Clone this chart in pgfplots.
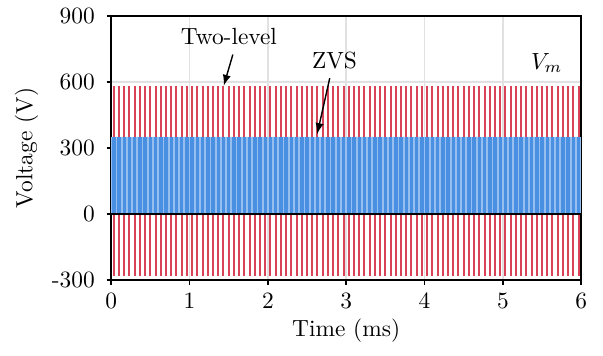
\documentclass[border=0pt]{standalone}
\usepackage{pgfplots}
\pgfplotsset{compat=1.18}
\usepackage{pgfplotstable}
\definecolor{tlred}{RGB}{217,67,88}
\definecolor{zvsblue}{RGB}{74,144,226}
\definecolor{zvslight}{RGB}{150,190,238}
\definecolor{gridgray}{RGB}{225,225,225}
\pgfplotstableread{
x hi lo zvs
0.033 580 -280 350
0.100 580 -280 350
0.167 580 -280 350
0.233 580 -280 350
0.300 580 -280 350
0.367 580 -280 350
0.433 580 -280 350
0.500 580 -280 350
0.567 580 -280 350
0.633 580 -280 350
0.700 580 -280 350
0.767 580 -280 350
0.833 580 -280 350
0.900 580 -280 350
0.967 580 -280 350
1.033 580 -280 350
1.100 580 -280 350
1.167 580 -280 350
1.233 580 -280 350
1.300 580 -280 350
1.367 580 -280 350
1.433 580 -280 350
1.500 580 -280 350
1.567 580 -280 350
1.633 580 -280 350
1.700 580 -280 350
1.767 580 -280 350
1.833 580 -280 350
1.900 580 -280 350
1.967 580 -280 350
2.033 580 -280 350
2.100 580 -280 350
2.167 580 -280 350
2.233 580 -280 350
2.300 580 -280 350
2.367 580 -280 350
2.433 580 -280 350
2.500 580 -280 350
2.567 580 -280 350
2.633 580 -280 350
2.700 580 -280 350
2.767 580 -280 350
2.833 580 -280 350
2.900 580 -280 350
2.967 580 -280 350
3.033 580 -280 350
3.100 580 -280 350
3.167 580 -280 350
3.233 580 -280 350
3.300 580 -280 350
3.367 580 -280 350
3.433 580 -280 350
3.500 580 -280 350
3.567 580 -280 350
3.633 580 -280 350
3.700 580 -280 350
3.767 580 -280 350
3.833 580 -280 350
3.900 580 -280 350
3.967 580 -280 350
4.033 580 -280 350
4.100 580 -280 350
4.167 580 -280 350
4.233 580 -280 350
4.300 580 -280 350
4.367 580 -280 350
4.433 580 -280 350
4.500 580 -280 350
4.567 580 -280 350
4.633 580 -280 350
4.700 580 -280 350
4.767 580 -280 350
4.833 580 -280 350
4.900 580 -280 350
4.967 580 -280 350
5.033 580 -280 350
5.100 580 -280 350
5.167 580 -280 350
5.233 580 -280 350
5.300 580 -280 350
5.367 580 -280 350
5.433 580 -280 350
5.500 580 -280 350
5.567 580 -280 350
5.633 580 -280 350
5.700 580 -280 350
5.767 580 -280 350
5.833 580 -280 350
5.900 580 -280 350
5.967 580 -280 350
}\pulses
\begin{document}
\begin{tikzpicture}
\begin{axis}[
  scale only axis,
  width=201pt, height=113pt,
  xmin=0, xmax=6, ymin=-300, ymax=900,
  xtick={0,1,2,3,4,5,6},
  ytick={-300,0,300,600,900},
  yticklabels={-300,0,300,600,900},
  tick align=outside,
  xtick pos=bottom, ytick pos=left,
  major tick length=2pt,
  grid=major,
  major grid style={gridgray, line width=0.7pt},
  axis line style={line width=0.7pt},
  tick style={black, line width=0.7pt},
  yticklabel style={xshift=-1.5pt},
  xlabel={Time (ms)},
  ylabel={Voltage (V)},
  xlabel style={yshift=2pt},
  ylabel style={yshift=-1pt},
  clip=true,
]
\addplot[ycomb, tlred, line width=0.85pt, mark=none] table[x=x, y=hi] {\pulses};
\addplot[ycomb, tlred, line width=0.85pt, mark=none] table[x=x, y=lo] {\pulses};
\addplot[fill=zvslight, draw=none] coordinates {(0,350) (6,350)} \closedcycle;
\addplot[ycomb, zvsblue, line width=1.5pt, mark=none] table[x=x, y=zvs] {\pulses};
\addplot[black, line width=0.9pt, mark=none] coordinates {(0,0) (6,0)};
\node at (axis cs:1.503,805) {Two-level};
\draw[-latex, line width=0.6pt] (axis cs:1.553,724) -- (axis cs:1.437,583);
\node at (axis cs:2.85,697) {ZVS};
\draw[-latex, line width=0.6pt] (axis cs:2.79,617) -- (axis cs:2.63,364);
\node at (axis cs:5.56,685) {$V_m$};
\end{axis}
\path ([xshift=-3pt,yshift=-2pt]current bounding box.south west) ([xshift=3.5pt,yshift=0pt]current bounding box.north east);
\end{tikzpicture}
\end{document}
